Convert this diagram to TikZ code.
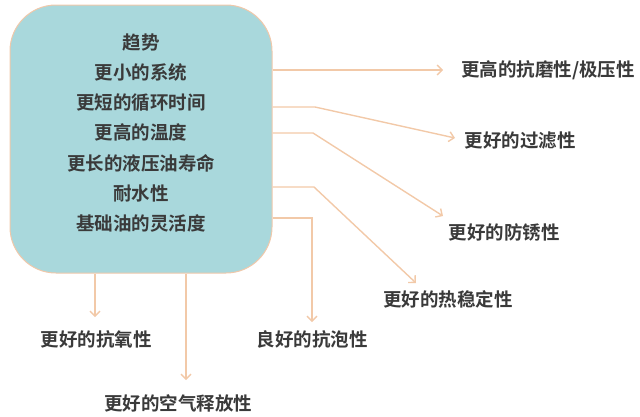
\documentclass[tikz,border=0pt]{standalone}
\usepackage{fontspec}
\setmainfont{Noto Sans CJK SC Bold}
\usetikzlibrary{arrows.meta}
\definecolor{boxfill}{HTML}{A9D8DC}
\definecolor{boxedge}{HTML}{F0C8AA}
\definecolor{arrcol}{HTML}{F2C9A8}
\definecolor{txt}{HTML}{3A3A3A}
\tikzset{
  arr/.style={draw=arrcol, line width=1.4pt, -{Straight Barb[length=5pt,width=10pt]}},
  lbl/.style={text=txt, font=\fontsize{18.5}{22}\selectfont, inner sep=0pt},
}
\begin{document}
\begin{tikzpicture}[x=1pt,y=-1pt]
\useasboundingbox (0,0) rectangle (640,416);
\node[draw=boxedge, fill=boxfill, line width=1pt, rounded corners=46pt,
      minimum width=262pt, minimum height=268pt, inner sep=0pt] (trend) at (141,139) {};
\node[text=txt, align=center, inner sep=0pt, font=\fontsize{18.5}{30.2}\selectfont] (trendtext) at (141,133)
  {趋势\\更小的系统\\更短的循环时间\\更高的温度\\更长的液压油寿命\\耐水性\\基础油的灵活度};

\node[lbl] (l1) at (548,70) {更高的抗磨性/极压性};
\node[lbl] (l2) at (520,141) {更好的过滤性};
\node[lbl] (l3) at (504,232) {更好的防锈性};
\node[lbl] (l4) at (448,299) {更好的热稳定性};
\node[lbl] (l5) at (312,339) {良好的抗泡性};
\node[lbl] (l6) at (96,339) {更好的抗氧性};
\node[lbl] (l7) at (178,403) {更好的空气释放性};

\coordinate (b2) at (315,107);
\coordinate (e2) at (455,138);
\coordinate (b3) at (313,133);
\coordinate (e3) at (443,216);
\coordinate (b4) at (314,187);
\coordinate (e4) at (416,283);
\coordinate (b5) at (312,218);
\coordinate (e5) at (312,322);
\coordinate (e1) at (443,70);
\coordinate (e6) at (95,317);
\coordinate (e7) at (186,380);

\draw[arr] (trend.east |- e1) -- (e1);
\draw[arr] (trend.east |- b2) -- (b2) -- (e2);
\draw[arr] (trend.east |- b3) -- (b3) -- (e3);
\draw[arr] (trend.east |- b4) -- (b4) -- (e4);
\draw[arr] (trend.east |- b5) -- (b5) -- (e5);
\draw[arr] (trend.south -| e6) -- (e6);
\draw[arr] (trend.south -| e7) -- (e7);
\end{tikzpicture}
\end{document}
